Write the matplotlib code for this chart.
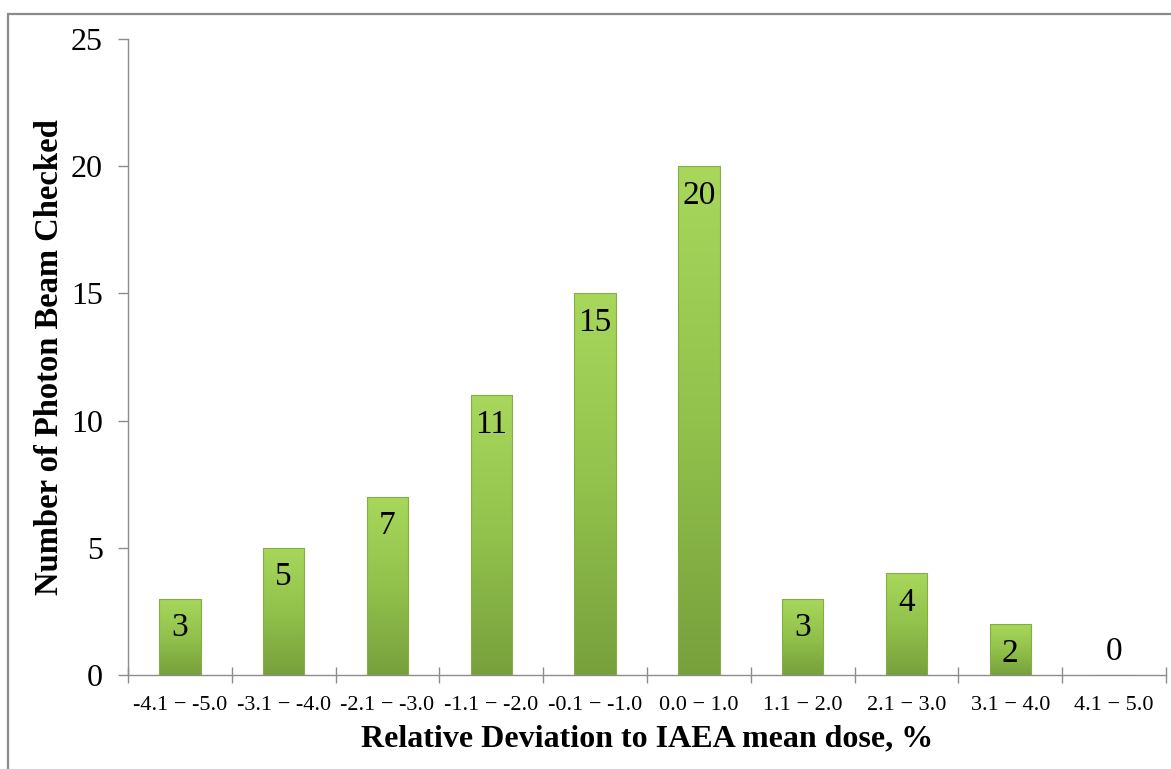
import matplotlib.pyplot as plt
import numpy as np
from matplotlib.colors import LinearSegmentedColormap
from matplotlib.patches import Rectangle

plt.rcParams['font.family'] = ['Liberation Serif', 'DejaVu Serif']

categories = ["-4.1 \u2212 -5.0", "-3.1 \u2212 -4.0", "-2.1 \u2212 -3.0", "-1.1 \u2212 -2.0",
              "-0.1 \u2212 -1.0", "0.0 \u2212 1.0", "1.1 \u2212 2.0", "2.1 \u2212 3.0",
              "3.1 \u2212 4.0", "4.1 \u2212 5.0"]
counts = [3, 5, 7, 11, 15, 20, 3, 4, 2, 0]
y_ticks = [0, 5, 10, 15, 20, 25]

axis_grey = "#8c8c8c"
green_cmap = LinearSegmentedColormap.from_list("bar", ["#77a03c", "#92c24c", "#a8d75c"])

fig = plt.figure(figsize=(11.71, 7.69), dpi=100)
ax = fig.add_axes([0.1093, 0.1222, 0.8864, 0.8271])

x = np.arange(len(categories))
bars = ax.bar(x, counts, width=0.4, color="none", edgecolor="#86ad45", linewidth=0.8, zorder=3)

# degrade vertical dans chaque barre
grad = np.linspace(0, 1, 256).reshape(-1, 1)
for b in bars:
    if b.get_height() <= 0:
        continue
    x0, w, h = b.get_x(), b.get_width(), b.get_height()
    im = ax.imshow(grad, cmap=green_cmap, aspect="auto", origin="lower",
                   extent=[x0, x0 + w, 0, h], zorder=2)
    im.set_clip_path(b)

for xi, v in zip(x, counts):
    off = -21 if v > 0 else 17
    ax.annotate(str(v), (xi, v), xytext=(0, off), textcoords="offset points",
                ha="center", va="center", fontsize=24, zorder=4)

ax.set_xlim(-0.5, len(categories) - 0.5)
ax.set_ylim(0, 25)
ax.set_yticks(y_ticks)
ax.set_xticks(np.arange(len(categories) + 1) - 0.5, minor=False)
ax.set_xticklabels([])
ax.set_xticks(x, minor=True)
ax.set_xticklabels(categories, minor=True, fontsize=16)

for s in ["top", "right"]:
    ax.spines[s].set_visible(False)
for s in ["left", "bottom"]:
    ax.spines[s].set_color(axis_grey)
    ax.spines[s].set_linewidth(1.0)

ax.tick_params(axis="y", direction="out", length=7, width=1.0, color=axis_grey,
               labelsize=23, pad=11)
ax.tick_params(axis="x", which="major", direction="inout", length=11, width=1.0, color=axis_grey)
ax.tick_params(axis="x", which="minor", length=0, pad=15)

ax.set_xlabel("Relative Deviation to IAEA mean dose, %", fontsize=23, fontweight="bold", labelpad=7)
ax.set_ylabel("Number of Photon Beam Checked", fontsize=23.5, fontweight="bold", labelpad=4)

# cadre du graphique
fig.patches.append(Rectangle((8 / 1171, -0.05), 1.1, 1 - 14 / 769 + 0.05,
                             transform=fig.transFigure, fill=False,
                             edgecolor="#8a8a8a", linewidth=1.6))

fig.savefig("out.png", dpi=100)
